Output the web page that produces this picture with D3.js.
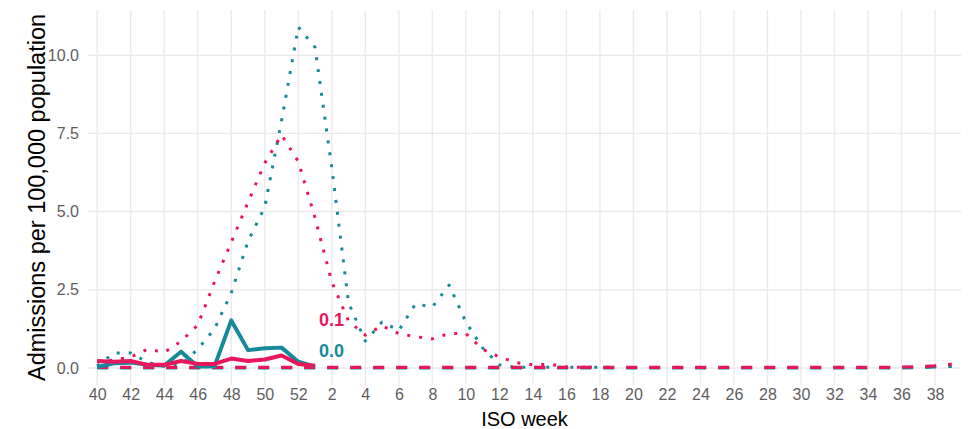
<!DOCTYPE html>
<html>
<head>
<meta charset="utf-8">
<script src="https://cdnjs.cloudflare.com/ajax/libs/d3/7.8.5/d3.min.js"></script>
<style>
  html, body { margin: 0; padding: 0; background: #fff; }
  svg { display: block; font-family: "Liberation Sans", Arial, sans-serif; }
</style>
</head>
<body>
<svg id="chart" width="968" height="429"></svg>
<script>
// ISO weeks of the season, week 40 through week 39
const weeks = [40, 41, 42, 43, 44, 45, 46, 47, 48, 49, 50, 51, 52,
  1, 2, 3, 4, 5, 6, 7, 8, 9, 10, 11, 12, 13, 14, 15, 16, 17, 18, 19, 20,
  21, 22, 23, 24, 25, 26, 27, 28, 29, 30, 31, 32, 33, 34, 35, 36, 37, 38, 39];
const weekTicks = [40, 42, 44, 46, 48, 50, 52, 2, 4, 6, 8, 10, 12, 14, 16, 18,
  20, 22, 24, 26, 28, 30, 32, 34, 36, 38];
const yTicks = [0, 2.5, 5, 7.5, 10];

// previous seasons (dotted)
const tealPrev = [0.06, 0.48, 0.48, 0.18, 0.05, 0.1, 0.6, 1.25, 2.4, 4.05, 5.15, 7.9, 10.9,
  10.25, 6.4, 2.08, 0.86, 1.47, 1.2, 2.05, 1.95, 2.65, 1.47, 0.64, 0.1, 0.02, 0.02, 0.02,
  0.02, 0.02, 0.02, 0.02, null, null, null, null, null, null, null, null, null, null,
  null, null, null, null, null, null, null, null, null, null];
const redPrev = [0.2, 0.25, 0.35, 0.6, 0.5, 0.85, 1.37, 2.75, 4.02, 5.3, 6.55, 7.45, 6.6,
  4.8, 2.75, 1.5, 1.05, 1.35, 1.1, 1.0, 0.93, 1.1, 1.1, 0.6, 0.35, 0.17, 0.1, 0.12,
  0.03, 0.02, 0.02, null, null, null, null, null, null, null, null, null, null, null,
  null, null, null, null, null, null, null, null, null, null];

// another season (dashed), close to zero all year
const tealLow = [0, 0, 0, 0, 0, 0, 0, 0, 0, 0, 0, 0, 0, 0, 0, 0, 0, 0, 0, 0, 0, 0, 0, 0,
  0, 0, 0, 0, 0, 0, 0, 0, 0, 0, 0, 0, 0, 0, 0, 0, 0, 0, 0, 0, 0, 0, 0, 0, 0, 0.01, 0.03, 0.05];
const redLow = [0.02, 0.02, 0.02, 0.02, 0.02, 0.02, 0.02, 0.02, 0.02, 0.02, 0.02, 0.02, 0.02,
  0.02, 0.02, 0.02, 0.02, 0.02, 0.02, 0.02, 0.02, 0.02, 0.02, 0.02, 0.02, 0.02, 0.02, 0.02,
  0.02, 0.02, 0.02, 0.02, 0.02, 0.02, 0.02, 0.02, 0.02, 0.02, 0.02, 0.02, 0.02, 0.02,
  0.02, 0.02, 0.02, 0.02, 0.02, 0.02, 0.03, 0.04, 0.07, 0.12];

// current season (solid)
const tealNow = [0.03, 0.15, 0.17, 0.1, 0.08, 0.52, 0.05, 0.05, 1.52, 0.57, 0.63, 0.65, 0.2, 0.04];
const redNow = [0.22, 0.2, 0.22, 0.1, 0.1, 0.22, 0.13, 0.13, 0.3, 0.22, 0.27, 0.4, 0.13, 0.07];

const teal = '#168a9a';
const red = '#e8175c';

const width = 968, height = 429;
const margin = { top: 10, right: 7, bottom: 44, left: 88 };

const svg = d3.select('#chart');

const x = d3.scalePoint()
  .domain(d3.range(weeks.length))
  .range([margin.left, width - margin.right])
  .padding(0.55);

const y = d3.scaleLinear()
  .domain([-0.545, 11.445])
  .range([height - margin.bottom, margin.top]);

// grid
const grid = svg.append('g');
grid.selectAll('line.h')
  .data(yTicks)
  .enter().append('line')
  .attr('x1', margin.left).attr('x2', width - margin.right)
  .attr('y1', d => y(d)).attr('y2', d => y(d))
  .attr('stroke', '#ebebeb').attr('stroke-width', 1.4);
grid.selectAll('line.v')
  .data(weekTicks)
  .enter().append('line')
  .attr('x1', d => x(weeks.indexOf(d))).attr('x2', d => x(weeks.indexOf(d)))
  .attr('y1', margin.top).attr('y2', height - margin.bottom)
  .attr('stroke', '#ebebeb').attr('stroke-width', 1.4);

// axes, text only
const xAxis = d3.axisBottom(x)
  .tickValues(weekTicks.map(w => weeks.indexOf(w)))
  .tickFormat(i => weeks[i])
  .tickSize(0).tickPadding(4);
const yAxis = d3.axisLeft(y)
  .tickValues(yTicks)
  .tickFormat(d3.format('.1f'))
  .tickSize(0).tickPadding(9);

svg.append('g')
  .attr('transform', `translate(0,${height - margin.bottom})`)
  .call(xAxis)
  .call(g => g.select('.domain').remove());
svg.append('g')
  .attr('transform', `translate(${margin.left},0)`)
  .call(yAxis)
  .call(g => g.select('.domain').remove());

svg.selectAll('.tick text')
  .attr('font-size', 16)
  .attr('font-family', '"Liberation Sans", Arial, sans-serif')
  .attr('fill', '#5e5e5e');

// lines
const line = d3.line()
  .defined(d => d != null)
  .x((d, i) => x(i))
  .y(d => y(d));

const series = [
  { values: tealPrev, color: teal, dash: '3 9', width: 3 },
  { values: redPrev, color: red, dash: '3 9', width: 3 },
  { values: tealLow, color: teal, dash: '11 12', width: 3.2 },
  { values: redLow, color: red, dash: '11 12', width: 3.2 },
  { values: tealNow, color: teal, dash: null, width: 4 },
  { values: redNow, color: red, dash: null, width: 4 }
];

svg.append('g')
  .selectAll('path')
  .data(series)
  .enter().append('path')
  .attr('d', d => line(d.values))
  .attr('fill', 'none')
  .attr('stroke', d => d.color)
  .attr('stroke-width', d => d.width)
  .attr('stroke-dasharray', d => d.dash)
  .attr('stroke-linejoin', 'round');

// end labels for the current season
const lastIdx = redNow.length - 1;
svg.append('text')
  .attr('x', x(lastIdx) + 4)
  .attr('y', y(redNow[lastIdx]) - 40)
  .attr('font-size', 18).attr('font-weight', 'bold')
  .attr('fill', red)
  .text(d3.format('.1f')(redNow[lastIdx]));
svg.append('text')
  .attr('x', x(lastIdx) + 4)
  .attr('y', y(tealNow[lastIdx]) - 10)
  .attr('font-size', 18).attr('font-weight', 'bold')
  .attr('fill', teal)
  .text(d3.format('.1f')(tealNow[lastIdx]));

// axis titles
svg.append('text')
  .attr('x', (margin.left + width - margin.right) / 2)
  .attr('y', height - 3)
  .attr('text-anchor', 'middle')
  .attr('font-size', 20)
  .attr('fill', '#000')
  .text('ISO week');

svg.append('text')
  .attr('transform', `translate(45,${(margin.top + height - margin.bottom) / 2}) rotate(-90)`)
  .attr('text-anchor', 'middle')
  .attr('font-size', 23.5)
  .attr('fill', '#000')
  .text('Admissions per 100,000 population');
</script>
</body>
</html>
